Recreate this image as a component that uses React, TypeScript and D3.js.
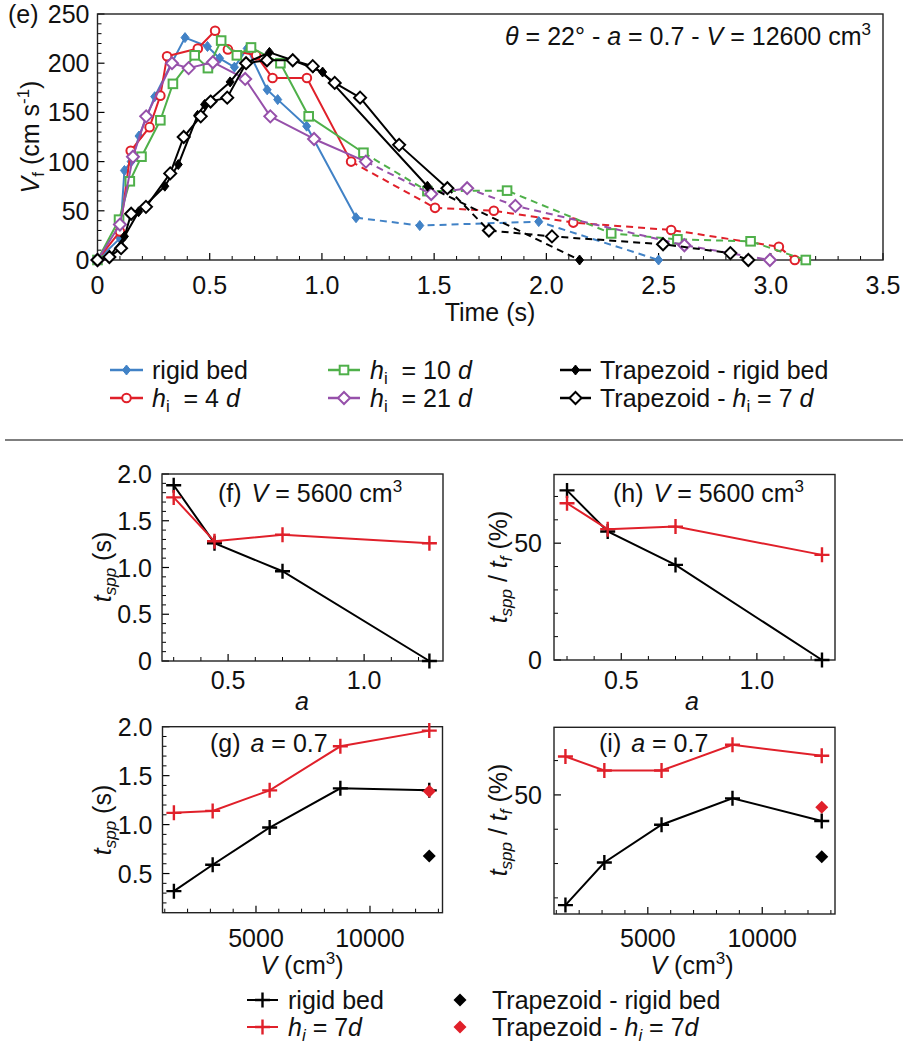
import React from "react";
import * as d3 from "d3";

type Pt = [number, number];

const FONT = '"Liberation Sans", Arial, Helvetica, sans-serif';
const FS = 25;
const SUB = 17;
const BLUE = "#4182c6";
const RED = "#e0202a";
const GREEN = "#4fb04a";
const PURPLE = "#9650aa";
const BLACK = "#000";

// ---------- Panel (e): front velocity vs time ----------
const rigidBed: Pt[] = [[0, 0], [0.1, 22], [0.12, 91], [0.15, 100], [0.185, 126], [0.255, 166], [0.33, 200], [0.39, 226], [0.49, 217], [0.544, 205], [0.61, 196], [0.667, 215], [0.756, 173], [0.803, 163], [0.932, 136], [1.152, 43], [1.436, 35], [1.966, 39], [2.5, 0]];
const hi4d: Pt[] = [[0, 0], [0.1, 29], [0.148, 111], [0.232, 135], [0.28, 167], [0.31, 207], [0.447, 215], [0.524, 233], [0.581, 214], [0.707, 208], [0.78, 185], [0.933, 185], [1.13, 100], [1.504, 53], [1.766, 50], [2.12, 38], [2.556, 30.5], [3.036, 13.5], [3.107, 0]];
const hi10d: Pt[] = [[0, 0], [0.096, 41], [0.144, 80], [0.196, 105], [0.28, 142], [0.336, 179], [0.433, 208], [0.492, 195], [0.551, 223], [0.621, 208], [0.684, 216], [0.815, 200], [0.941, 146], [1.185, 109], [1.47, 70], [1.825, 70.5], [2.289, 27], [2.584, 21], [2.91, 19], [3.156, 0]];
const hi21d: Pt[] = [[0, 0], [0.1, 36], [0.158, 105], [0.217, 146], [0.332, 200], [0.406, 195], [0.514, 201], [0.658, 184], [0.77, 146], [0.965, 123], [1.196, 100], [1.487, 67], [1.647, 73], [1.862, 55], [2.615, 15], [2.996, 0]];
const trapRigid: Pt[] = [[0, 0], [0.05, 2], [0.12, 24], [0.183, 49], [0.3, 75], [0.36, 97], [0.446, 147], [0.477, 158], [0.591, 181], [0.659, 200], [0.766, 211], [0.87, 203], [0.96, 195], [1.003, 191], [1.47, 75], [2.148, 0]];
const trapHi7d: Pt[] = [[0, 0], [0.053, 3], [0.105, 12], [0.15, 47], [0.216, 54], [0.324, 88], [0.384, 125], [0.46, 146], [0.504, 161], [0.578, 165], [0.662, 200], [0.755, 203], [0.87, 203], [0.959, 197], [1.057, 180], [1.17, 165], [1.344, 117], [1.559, 73], [1.744, 30], [2.025, 24], [2.52, 16], [2.82, 7], [2.9, 0]];
// time from which each curve is dashed
const dashFrom = [1.152, 1.13, 1.185, 1.196, 1.47, 1.559];

const eXTicks = [0, 0.5, 1.0, 1.5, 2.0, 2.5, 3.0, 3.5];
const eXTickLabels = ["0", "0.5", "1.0", "1.5", "2.0", "2.5", "3.0", "3.5"];
const eYTicks = [0, 50, 100, 150, 200, 250];

// ---------- Panels (f),(h): vs a, V = 5600 ----------
const aValues = [0.3, 0.45, 0.7, 1.24];
const fRigid = [1.88, 1.26, 0.96, 0];
const fHi7 = [1.75, 1.28, 1.35, 1.26];
const hRigid = [72.6, 55, 40.7, 0];
const hHi7 = [67.1, 56, 57.1, 45];

// ---------- Panels (g),(i): vs V, a = 0.7 ----------
const vValues = [1400, 3100, 5600, 8700, 12600];
const gRigid = [0.32, 0.59, 0.97, 1.37, 1.35];
const gHi7 = [1.12, 1.14, 1.35, 1.80, 1.96];
const iRigid = [17.9, 30.3, 41.3, 49, 42.4];
const iHi7 = [61.2, 57.1, 57.1, 64.6, 61.4];
const trapV = [12600];
const gTrapRigid = [0.68];
const gTrapHi7 = [1.34];
const iTrapRigid = [32];
const iTrapHi7 = [46.4];

const aMajor = [0.5, 1.0];
const vMajor = [5000, 10000];

function Marker({ type, x, y, color }: { type: string; x: number; y: number; color: string }) {
  switch (type) {
    case "fdiamond":
      return <path d={`M${x},${y - 5}L${x + 4},${y}L${x},${y + 5}L${x - 4},${y}Z`} fill={color} stroke={color} strokeWidth={1} />;
    case "circle":
      return <circle cx={x} cy={y} r={4.3} fill="#fff" stroke={color} strokeWidth={2} />;
    case "square":
      return <rect x={x - 4.3} y={y - 4.3} width={8.6} height={8.6} fill="#fff" stroke={color} strokeWidth={2} />;
    case "odiamond":
      return <path d={`M${x},${y - 6}L${x + 6},${y}L${x},${y + 6}L${x - 6},${y}Z`} fill="#fff" stroke={color} strokeWidth={2} />;
    case "plus":
      return <path d={`M${x - 7.5},${y}H${x + 7.5}M${x},${y - 7.5}V${y + 7.5}`} stroke={color} strokeWidth={2.4} fill="none" />;
    case "bdiamond":
      return <path d={`M${x},${y - 6.5}L${x + 6.5},${y}L${x},${y + 6.5}L${x - 6.5},${y}Z`} fill={color} />;
    default:
      return null;
  }
}

type Scale = d3.ScaleLinear<number, number>;

function Axes({ xs, ys, xMinor, xMajor, yMinor, yMajor, xFmt, yFmt, xLabelY, yGap }: {
  xs: Scale; ys: Scale; xMinor: number[]; xMajor: number[]; yMinor: number[]; yMajor: number[];
  xFmt: (v: number) => string; yFmt: (v: number) => string; xLabelY: number; yGap: number;
}) {
  const [L, R] = xs.range();
  const [B, T] = ys.range();
  return (
    <g>
      {xMinor.map((v) => <line key={"xm" + v} x1={xs(v)} x2={xs(v)} y1={B} y2={B - 4} stroke="#000" strokeWidth={1} />)}
      {xMajor.map((v) => <line key={"xM" + v} x1={xs(v)} x2={xs(v)} y1={B} y2={B - 7} stroke="#000" strokeWidth={1.2} />)}
      {yMinor.map((v) => <line key={"ym" + v} x1={L} x2={L + 4} y1={ys(v)} y2={ys(v)} stroke="#000" strokeWidth={1} />)}
      {yMajor.map((v) => <line key={"yM" + v} x1={L} x2={L + 7} y1={ys(v)} y2={ys(v)} stroke="#000" strokeWidth={1.2} />)}
      <rect x={L} y={T} width={R - L} height={B - T} fill="none" stroke="#222" strokeWidth={1.4} />
      {xMajor.map((v) => (
        <text key={"xl" + v} x={xs(v)} y={xLabelY} textAnchor="middle">{xFmt(v)}</text>
      ))}
      {yMajor.map((v) => (
        <text key={"yl" + v} x={L - yGap} y={ys(v) + 9} textAnchor="end">{yFmt(v)}</text>
      ))}
    </g>
  );
}

function PanelE() {
  const xs = d3.scaleLinear().domain([0, 3.5]).range([97.5, 883]);
  const ys = d3.scaleLinear().domain([0, 250]).range([260, 14]);
  const line = d3.line<Pt>().x((d) => xs(d[0])).y((d) => ys(d[1]));
  const series = [
    { data: rigidBed, color: BLUE, marker: "fdiamond" },
    { data: hi4d, color: RED, marker: "circle" },
    { data: hi10d, color: GREEN, marker: "square" },
    { data: hi21d, color: PURPLE, marker: "odiamond" },
    { data: trapRigid, color: BLACK, marker: "fdiamond" },
    { data: trapHi7d, color: BLACK, marker: "odiamond" },
  ];
  const xMinor = d3.range(0, 36).map((i) => i / 10).filter((v) => !eXTicks.some((t) => Math.abs(t - v) < 1e-6));
  const yMinor = d3.range(0, 26).map((i) => i * 10).filter((v) => v % 50 !== 0);
  return (
    <g>
      <Axes xs={xs} ys={ys} xMinor={xMinor} xMajor={eXTicks} yMinor={yMinor} yMajor={eYTicks}
        xFmt={(v) => eXTickLabels[eXTicks.indexOf(v)]} yFmt={(v) => String(v)} xLabelY={294} yGap={8} />
      {series.map((s, i) => {
        const split = dashFrom[i];
        const solid = s.data.filter((d) => d[0] <= split + 1e-9);
        const dashed = s.data.filter((d) => d[0] >= split - 1e-9);
        return (
          <g key={i}>
            <path d={line(solid) || ""} fill="none" stroke={s.color} strokeWidth={2} strokeLinejoin="round" />
            <path d={line(dashed) || ""} fill="none" stroke={s.color} strokeWidth={2} strokeDasharray="7,5" />
            {s.data.map((d, j) => <Marker key={j} type={s.marker} x={xs(d[0])} y={ys(d[1])} color={s.color} />)}
          </g>
        );
      })}
      <text x={8} y={23}>(e)</text>
      <text x={871} y={45} textAnchor="end" style={{ whiteSpace: "pre" }}>
        <tspan fontStyle="italic">θ</tspan>
        <tspan>{" = 22° - "}</tspan>
        <tspan fontStyle="italic">a</tspan>
        <tspan>{" = 0.7 - "}</tspan>
        <tspan fontStyle="italic">V</tspan>
        <tspan>{" = 12600 cm"}</tspan>
        <tspan dy={-10} fontSize={SUB}>3</tspan>
      </text>
      <text x={490} y={321} textAnchor="middle">Time (s)</text>
      <text transform="translate(39,137) rotate(-90)" textAnchor="middle" style={{ whiteSpace: "pre" }}>
        <tspan fontStyle="italic">V</tspan>
        <tspan dy={5} fontSize={SUB}>f</tspan>
        <tspan dy={-5}>{" (cm s"}</tspan>
        <tspan dy={-10} fontSize={SUB}>-1</tspan>
        <tspan dy={10}>)</tspan>
      </text>
    </g>
  );
}

function LegendE() {
  const rows = [370, 398];
  const items = [
    { col: 0, row: 0, color: BLUE, marker: "fdiamond", label: "rigid" },
    { col: 0, row: 1, color: RED, marker: "circle", label: "4" },
    { col: 1, row: 0, color: GREEN, marker: "square", label: "10" },
    { col: 1, row: 1, color: PURPLE, marker: "odiamond", label: "21" },
    { col: 2, row: 0, color: BLACK, marker: "fdiamond", label: "trap" },
    { col: 2, row: 1, color: BLACK, marker: "odiamond", label: "trap7" },
  ];
  const cols = [{ x1: 110, x2: 143, tx: 152 }, { x1: 328, x2: 360, tx: 370 }, { x1: 560, x2: 591, tx: 600 }];
  return (
    <g>
      {items.map((it, k) => {
        const c = cols[it.col];
        const y = rows[it.row];
        let txt: React.ReactNode;
        if (it.label === "trap") txt = <tspan>Trapezoid - rigid bed</tspan>;
        else if (it.label === "trap7")
          txt = (
            <>
              <tspan>{"Trapezoid - "}</tspan>
              <tspan fontStyle="italic">h</tspan>
              <tspan dy={5} fontSize={SUB}>i</tspan>
              <tspan dy={-5}>{" = 7 "}</tspan>
              <tspan fontStyle="italic">d</tspan>
            </>
          );
        else if (it.label === "rigid") txt = <tspan>rigid bed</tspan>;
        else
          txt = (
            <>
              <tspan fontStyle="italic">h</tspan>
              <tspan dy={5} fontSize={SUB}>i</tspan>
              <tspan dy={-5}>{`  = ${it.label} `}</tspan>
              <tspan fontStyle="italic">d</tspan>
            </>
          );
        return (
          <g key={k}>
            <line x1={c.x1} x2={c.x2} y1={y} y2={y} stroke={it.color} strokeWidth={2.5} />
            <Marker type={it.marker} x={(c.x1 + c.x2) / 2} y={y} color={it.color} />
            <text x={c.tx} y={y + 9} style={{ whiteSpace: "pre" }}>{txt}</text>
          </g>
        );
      })}
    </g>
  );
}

function TsppLabel({ x, y, pct }: { x: number; y: number; pct: boolean }) {
  return (
    <text transform={`translate(${x},${y}) rotate(-90)`} textAnchor="middle" style={{ whiteSpace: "pre" }}>
      <tspan fontStyle="italic">t</tspan>
      <tspan dy={5} fontSize={SUB} fontStyle="italic">spp</tspan>
      {pct ? (
        <>
          <tspan dy={-5}>{" / "}</tspan>
          <tspan fontStyle="italic">t</tspan>
          <tspan dy={5} fontSize={SUB} fontStyle="italic">f</tspan>
          <tspan dy={-5}>{" (%)"}</tspan>
        </>
      ) : (
        <tspan dy={-5}>{" (s)"}</tspan>
      )}
    </text>
  );
}

function SeriesLines({ xs, ys, xv, sets }: { xs: Scale; ys: Scale; xv: number[]; sets: { vals: number[]; color: string }[] }) {
  return (
    <g>
      {sets.map((s, i) => {
        const pts: Pt[] = xv.map((v, j) => [v, s.vals[j]]);
        const line = d3.line<Pt>().x((d) => xs(d[0])).y((d) => ys(d[1]));
        return (
          <g key={i}>
            <path d={line(pts) || ""} fill="none" stroke={s.color} strokeWidth={2} />
            {pts.map((d, j) => <Marker key={j} type="plus" x={xs(d[0])} y={ys(d[1])} color={s.color} />)}
          </g>
        );
      })}
    </g>
  );
}

function PanelF() {
  const xs = d3.scaleLinear().domain([0.257, 1.29]).range([162, 443]);
  const ys = d3.scaleLinear().domain([0, 2]).range([661, 474]);
  const xMinor = d3.range(3, 13).map((i) => i / 10).filter((v) => Math.abs(v - 0.5) > 1e-6 && Math.abs(v - 1) > 1e-6);
  const yMinor = d3.range(0, 21).map((i) => i / 10).filter((v) => Math.abs(v * 2 - Math.round(v * 2)) > 1e-6);
  return (
    <g>
      <Axes xs={xs} ys={ys} xMinor={xMinor} xMajor={aMajor} yMinor={yMinor} yMajor={[0, 0.5, 1, 1.5, 2]}
        xFmt={(v) => v.toFixed(1)} yFmt={(v) => (v === 0 ? "0" : v.toFixed(1))} xLabelY={689} yGap={10} />
      <SeriesLines xs={xs} ys={ys} xv={aValues} sets={[{ vals: fRigid, color: BLACK }, { vals: fHi7, color: RED }]} />
      <text x={218} y={502} style={{ whiteSpace: "pre" }}>
        <tspan>{"(f) "}</tspan>
        <tspan fontStyle="italic" dx={3}>V</tspan>
        <tspan>{" = 5600 cm"}</tspan>
        <tspan dy={-10} fontSize={SUB}>3</tspan>
      </text>
      <text x={302} y={710} textAnchor="middle" fontStyle="italic">a</text>
      <TsppLabel x={111} y={567} pct={false} />
    </g>
  );
}

function PanelH() {
  const xs = d3.scaleLinear().domain([0.252, 1.288]).range([554, 835]);
  const ys = d3.scaleLinear().domain([0, 79.4]).range([660, 474.5]);
  const xMinor = d3.range(3, 13).map((i) => i / 10).filter((v) => Math.abs(v - 0.5) > 1e-6 && Math.abs(v - 1) > 1e-6);
  const yMinor = [10, 20, 30, 40, 60, 70];
  return (
    <g>
      <Axes xs={xs} ys={ys} xMinor={xMinor} xMajor={aMajor} yMinor={yMinor} yMajor={[0, 50]}
        xFmt={(v) => v.toFixed(1)} yFmt={(v) => String(v)} xLabelY={689} yGap={12} />
      <SeriesLines xs={xs} ys={ys} xv={aValues} sets={[{ vals: hRigid, color: BLACK }, { vals: hHi7, color: RED }]} />
      <text x={613} y={502} style={{ whiteSpace: "pre" }}>
        <tspan>{"(h) "}</tspan>
        <tspan fontStyle="italic" dx={3}>V</tspan>
        <tspan>{" = 5600 cm"}</tspan>
        <tspan dy={-10} fontSize={SUB}>3</tspan>
      </text>
      <text x={692} y={710} textAnchor="middle" fontStyle="italic">a</text>
      <TsppLabel x={507} y={567} pct={true} />
    </g>
  );
}

function VLabel({ x, y }: { x: number; y: number }) {
  return (
    <text x={x} y={y} textAnchor="middle" style={{ whiteSpace: "pre" }}>
      <tspan fontStyle="italic">V</tspan>
      <tspan>{" (cm"}</tspan>
      <tspan dy={-10} fontSize={SUB}>3</tspan>
      <tspan dy={10}>)</tspan>
    </text>
  );
}

function PanelG() {
  const xs = d3.scaleLinear().domain([900, 13180]).range([162.5, 442.5]);
  const ys = d3.scaleLinear().domain([0.1, 2.0]).range([912.7, 726.7]);
  const xMinor = d3.range(1, 14).map((i) => i * 1000).filter((v) => v !== 5000 && v !== 10000);
  const yMinor = d3.range(2, 20).map((i) => i / 10).filter((v) => Math.abs(v * 2 - Math.round(v * 2)) > 1e-6);
  return (
    <g>
      <Axes xs={xs} ys={ys} xMinor={xMinor} xMajor={vMajor} yMinor={yMinor} yMajor={[0.5, 1, 1.5, 2]}
        xFmt={(v) => String(v)} yFmt={(v) => v.toFixed(1)} xLabelY={947} yGap={10} />
      <SeriesLines xs={xs} ys={ys} xv={vValues} sets={[{ vals: gRigid, color: BLACK }, { vals: gHi7, color: RED }]} />
      {trapV.map((v, j) => <Marker key={"a" + j} type="bdiamond" x={xs(v)} y={ys(gTrapRigid[j])} color={BLACK} />)}
      {trapV.map((v, j) => <Marker key={"b" + j} type="bdiamond" x={xs(v)} y={ys(gTrapHi7[j])} color={RED} />)}
      <text x={210} y={752} style={{ whiteSpace: "pre" }}>
        <tspan>{"(g) "}</tspan>
        <tspan fontStyle="italic" dx={3}>a</tspan>
        <tspan>{" = 0.7"}</tspan>
      </text>
      <VLabel x={302} y={974} />
      <TsppLabel x={111} y={820} pct={false} />
    </g>
  );
}

function PanelI() {
  const xs = d3.scaleLinear().domain([900, 13180]).range([554, 835]);
  const ys = d3.scaleLinear().domain([15.3, 69.7]).range([914, 727.3]);
  const xMinor = d3.range(1, 14).map((i) => i * 1000).filter((v) => v !== 5000 && v !== 10000);
  const yMinor = [20, 30, 40, 60];
  return (
    <g>
      <Axes xs={xs} ys={ys} xMinor={xMinor} xMajor={vMajor} yMinor={yMinor} yMajor={[50]}
        xFmt={(v) => String(v)} yFmt={(v) => String(v)} xLabelY={947} yGap={12} />
      <SeriesLines xs={xs} ys={ys} xv={vValues} sets={[{ vals: iRigid, color: BLACK }, { vals: iHi7, color: RED }]} />
      {trapV.map((v, j) => <Marker key={"a" + j} type="bdiamond" x={xs(v)} y={ys(iTrapRigid[j])} color={BLACK} />)}
      {trapV.map((v, j) => <Marker key={"b" + j} type="bdiamond" x={xs(v)} y={ys(iTrapHi7[j])} color={RED} />)}
      <text x={599} y={752} style={{ whiteSpace: "pre" }}>
        <tspan>{"(i) "}</tspan>
        <tspan fontStyle="italic" dx={3}>a</tspan>
        <tspan>{" = 0.7"}</tspan>
      </text>
      <VLabel x={692} y={974} />
      <TsppLabel x={507} y={820} pct={true} />
    </g>
  );
}

function LegendBottom() {
  const r1 = 1000;
  const r2 = 1027;
  return (
    <g style={{ whiteSpace: "pre" }}>
      <line x1={247} x2={278} y1={r1} y2={r1} stroke={BLACK} strokeWidth={2} />
      <Marker type="plus" x={262.5} y={r1} color={BLACK} />
      <text x={288} y={r1 + 9}>rigid bed</text>
      <line x1={247} x2={278} y1={r2} y2={r2} stroke={RED} strokeWidth={2} />
      <Marker type="plus" x={262.5} y={r2} color={RED} />
      <text x={288} y={r2 + 9}>
        <tspan fontStyle="italic">h</tspan>
        <tspan dy={5} fontSize={SUB} fontStyle="italic">i</tspan>
        <tspan dy={-5}>{" = 7"}</tspan>
        <tspan fontStyle="italic">d</tspan>
      </text>
      <Marker type="bdiamond" x={460} y={r1} color={BLACK} />
      <text x={492} y={r1 + 9}>Trapezoid - rigid bed</text>
      <Marker type="bdiamond" x={460} y={r2} color={RED} />
      <text x={492} y={r2 + 9}>
        <tspan>{"Trapezoid - "}</tspan>
        <tspan fontStyle="italic">h</tspan>
        <tspan dy={5} fontSize={SUB} fontStyle="italic">i</tspan>
        <tspan dy={-5}>{" = 7"}</tspan>
        <tspan fontStyle="italic">d</tspan>
      </text>
    </g>
  );
}

export default function App() {
  return (
    <svg width={903} height={1050} viewBox="0 0 903 1050"
      style={{ position: "absolute", left: 0, top: 0, background: "#fff" }}
      fontFamily={FONT} fontSize={FS} fill="#111">
      <rect x={0} y={0} width={903} height={1050} fill="#fff" />
      <PanelE />
      <LegendE />
      <line x1={5} x2={903} y1={440} y2={440} stroke="#000" strokeWidth={1.2} />
      <PanelF />
      <PanelH />
      <PanelG />
      <PanelI />
      <LegendBottom />
    </svg>
  );
}
